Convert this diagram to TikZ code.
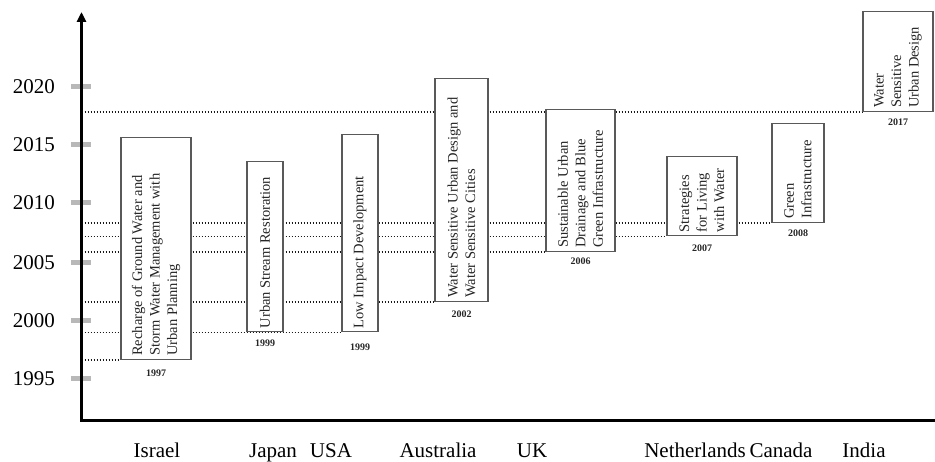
\documentclass[tikz,border=0pt]{standalone}
\usepackage{fontspec}
\setmainfont{Liberation Serif}
\usetikzlibrary{arrows.meta,backgrounds}
\begin{document}
\begin{tikzpicture}[x=1pt,y=1pt,
  axisline/.style={line width=3pt, black, line join=miter},
  tickmark/.style={line width=5pt, black!28},
  yearlabel/.style={font=\fontsize{21}{25}\selectfont, anchor=east, inner sep=0pt},
  country/.style={font=\fontsize{21}{25}\selectfont, anchor=base, inner sep=0pt},
  period/.style={draw=black!65, line width=1.1pt, fill=white, anchor=south, inner sep=0pt},
  boxtext/.style={rotate=90, anchor=west, align=left, inner sep=0pt,
    font=\fontsize{14.5}{17.5}\selectfont, text=black!85},
  since/.style={font=\fontsize{10}{12}\selectfont\bfseries, inner sep=0pt, text=black!85},
  dotline/.style={black!90, line width=1.6pt, dash pattern=on 1.5pt off 1.5pt},
]
\useasboundingbox (0,0) rectangle (935,462);

% axis frame
\coordinate (O) at (81.5,41);
\coordinate (ytop) at (81.5,450);
\coordinate (xend) at (935,41);

% year ticks and labels on the vertical axis
\foreach \yr/\yy in {2020/375,2015/317,2010/259,2005/199,2000/141,1995/83}{
  \draw[tickmark] (71,\yy) -- (91,\yy);
  \node[yearlabel] (y\yr) at (55,\yy) {\yr};
}

\draw[axisline, {Triangle[length=10pt,width=9pt]}-] (ytop) -- (O) -- (xend);

% policy boxes: width, height, bottom-centre
\node[period, minimum width=70pt, minimum height=222pt] (isr) at (156,102) {};
\node[period, minimum width=36pt, minimum height=170pt] (jpn) at (265,129.5) {};
\node[period, minimum width=36pt, minimum height=197pt] (usa) at (360,129.5) {};
\node[period, minimum width=53pt, minimum height=223pt] (aus) at (461.5,160) {};
\node[period, minimum width=69pt, minimum height=142pt] (uk)  at (580.5,210) {};
\node[period, minimum width=70pt, minimum height=79.5pt] (nld) at (702,225.5) {};
\node[period, minimum width=52pt, minimum height=99pt] (can) at (798,239) {};
\node[period, minimum width=70pt, minimum height=100pt] (ind) at (898,350) {};

% box captions
\node[boxtext] (isrt) at ([yshift=4pt]isr.south) {Recharge of Ground Water and\\Storm Water Management with\\Urban Planning};
\node[boxtext] (jpnt) at ([yshift=4pt]jpn.south) {Urban Stream Restoration};
\node[boxtext] (usat) at ([yshift=4pt]usa.south) {Low Impact Development};
\node[boxtext] (aust) at ([yshift=4pt]aus.south) {Water Sensitive Urban Design and\\Water Sensitive Cities};
\node[boxtext] (ukt)  at ([yshift=4pt]uk.south)  {Sustainable Urban\\Drainage and Blue\\Green Infrastructure};
\node[boxtext] (nldt) at ([yshift=4pt]nld.south) {Strategies\\for Living\\with Water};
\node[boxtext] (cant) at ([yshift=4pt]can.south) {Green\\Infrastructure};
\node[boxtext] (indt) at ([yshift=4pt]ind.south) {Water\\Sensitive\\Urban Design};

% starting years
\node[since] (isry) at ([yshift=-13pt]isr.south) {1997};
\node[since] (jpny) at ([yshift=-11pt]jpn.south) {1999};
\node[since] (usay) at ([yshift=-15pt]usa.south) {1999};
\node[since] (ausy) at ([yshift=-12pt]aus.south) {2002};
\node[since] (uky)  at ([yshift=-9pt]uk.south)  {2006};
\node[since] (nldy) at ([yshift=-12pt]nld.south) {2007};
\node[since] (cany) at ([yshift=-10pt]can.south) {2008};
\node[since] (indy) at ([yshift=-10pt]ind.south) {2017};

% guide lines from the axis to each starting year
\begin{scope}[on background layer]
  \foreach \b in {isr,usa,aus,uk,nld,can,ind}{
    \draw[dotline] (\b.south west -| O) -- (\b.south west);
  }
\end{scope}

% countries along the horizontal axis
\node[country] (cisr) at (157,4) {Israel};
\node[country] (cjpn) at (273,4) {Japan};
\node[country] (cusa) at (331,4) {USA};
\node[country] (caus) at (438,4) {Australia};
\node[country] (cuk)  at (532,4) {UK};
\node[country] (cnld) at (695,4) {Netherlands};
\node[country] (ccan) at (781,4) {Canada};
\node[country] (cind) at (864,4) {India};
\end{tikzpicture}
\end{document}
